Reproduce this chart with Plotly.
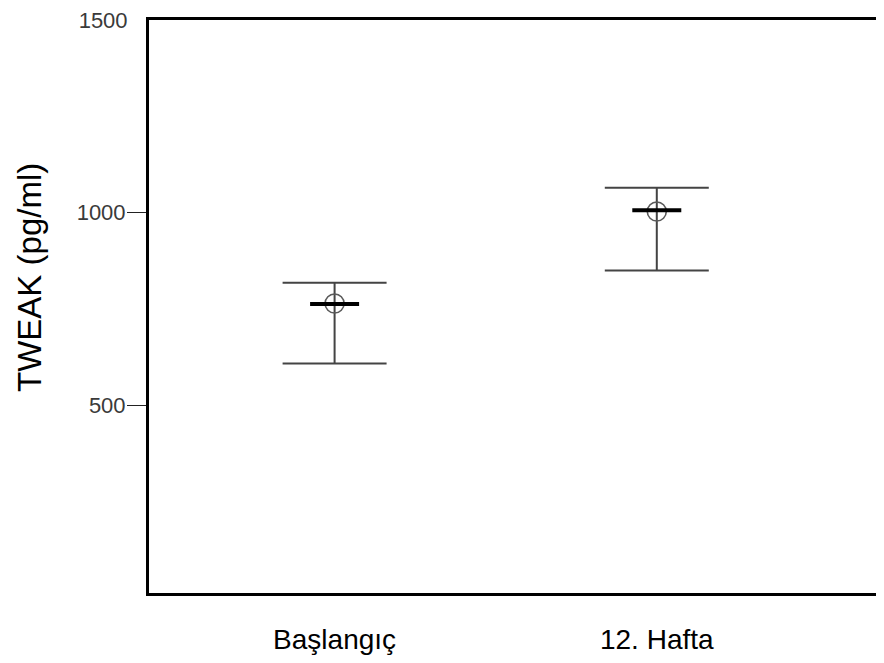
import plotly.graph_objects as go

categories = ["Başlangıç", "12. Hafta"]
means = [764, 1003]
medians = [763, 1006]
upper = [818, 1065]
lower = [608, 850]
y_title = "TWEAK (pg/ml)"
tick_vals = [500, 1000]
top_tick = [1500]

xpos = list(range(len(categories)))
err_plus = [u - m for u, m in zip(upper, means)]
err_minus = [m - l for m, l in zip(means, lower)]

FONT = "Liberation Sans, Arial, sans-serif"

fig = go.Figure()
fig.add_trace(go.Scatter(
    x=xpos, y=means, mode="markers",
    marker=dict(symbol="circle-open", size=19, color="#5a5a5a", line=dict(width=1.6, color="#5a5a5a")),
    error_y=dict(type="data", symmetric=False, array=err_plus, arrayminus=err_minus,
                 color="#444444", thickness=2, width=52),
    showlegend=False, hoverinfo="skip"))
fig.add_trace(go.Scatter(
    x=xpos, y=medians, mode="markers", yaxis="y2",
    marker=dict(symbol="line-ew", size=35, line=dict(width=4, color="black")),
    showlegend=False, hoverinfo="skip"))

yrange = [12, 1500.5]
fig.update_layout(
    width=884, height=655,
    margin=dict(l=141, r=0, t=6, b=70),
    paper_bgcolor="white", plot_bgcolor="white",
    font=dict(family=FONT),
    xaxis=dict(
        range=[-0.576, 1.73], tickvals=xpos, ticktext=categories,
        showgrid=False, zeroline=False,
        showline=True, linewidth=3, linecolor="black", mirror=True,
        ticks="outside", ticklen=19, tickcolor="rgba(0,0,0,0)",
        tickfont=dict(size=28, color="black", family=FONT),
    ),
    yaxis=dict(
        range=yrange, tickvals=tick_vals, ticktext=[str(v) for v in tick_vals],
        showgrid=False, zeroline=False,
        showline=True, linewidth=3, linecolor="black", mirror=False,
        ticks="outside", ticklen=19, tickwidth=1.2, tickcolor="#222222",
        ticklabelstandoff=-3,
        tickfont=dict(size=22, color="#3a3a3a", family=FONT),
    ),
    yaxis2=dict(
        range=yrange, overlaying="y", side="left", anchor="x", tickvals=top_tick,
        ticktext=[str(v) for v in top_tick], showgrid=False, zeroline=False,
        ticks="outside", ticklen=19, tickcolor="rgba(0,0,0,0)",
        ticklabelstandoff=-3, ticklabeloverflow="allow",
        tickfont=dict(size=22, color="#3a3a3a", family=FONT), showline=False,
    ),
    annotations=[dict(
        text=y_title, textangle=-90, xref="paper", yref="paper",
        x=-0.160, y=0.55, xanchor="center", yanchor="middle", showarrow=False,
        font=dict(size=33, color="black", family=FONT),
    )],
)
fig.write_html("out.html")
